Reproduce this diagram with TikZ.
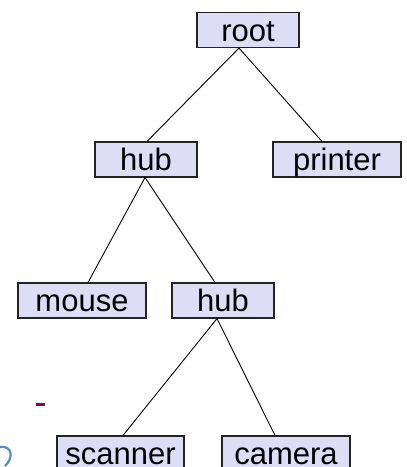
\documentclass[tikz,border=0pt]{standalone}
\usepackage{fontspec}
\setmainfont{Liberation Sans}
\definecolor{boxfill}{RGB}{221,221,246}
\definecolor{boxline}{RGB}{35,35,35}
\definecolor{dashpurple}{RGB}{120,10,120}
\definecolor{iconblue}{RGB}{80,140,210}
\begin{document}
\begin{tikzpicture}[x=1pt,y=-1pt,
  treebox/.style={draw=boxline,fill=boxfill,line width=1.1pt,inner sep=0pt,
    minimum height=35pt,text height=22pt,text depth=0pt,
    font=\fontsize{31}{31}\selectfont},
  edge/.style={draw=black,line width=0.9pt}]
\useasboundingbox (0,0) rectangle (407,467);
\node[treebox,minimum width=102pt] (root) at (248,30) {root};
\node[treebox,minimum width=102pt] (hubA) at (146,159.5) {hub};
\node[treebox,minimum width=128pt] (printer) at (337,159.5) {printer};
\node[treebox,minimum width=128pt] (mouse) at (82,300.5) {mouse};
\node[treebox,minimum width=102pt] (hubB) at (223,300.5) {hub};
\node[treebox,minimum width=127pt] (scanner) at (120.5,453.5) {scanner};
\node[treebox,minimum width=128pt] (camera) at (286,453.5) {camera};
\draw[edge] ([xshift=1pt]hubA.north) -- ([xshift=-9pt]root.south) -- ([xshift=-15pt]printer.north);
\draw[edge] ([xshift=6pt]mouse.north) -- ([xshift=-1pt]hubA.south) -- ([xshift=-8pt]hubB.north);
\draw[edge] ([xshift=2.5pt]scanner.north) -- ([xshift=-6pt]hubB.south) -- ([xshift=-11pt]camera.north);
% stray marks at lower left
\fill[dashpurple] (36,403) rectangle (45,406);
\draw[iconblue,line width=2.2pt] (0,447) .. controls (12,445) and (14,458) .. (5,466);
\end{tikzpicture}
\end{document}
